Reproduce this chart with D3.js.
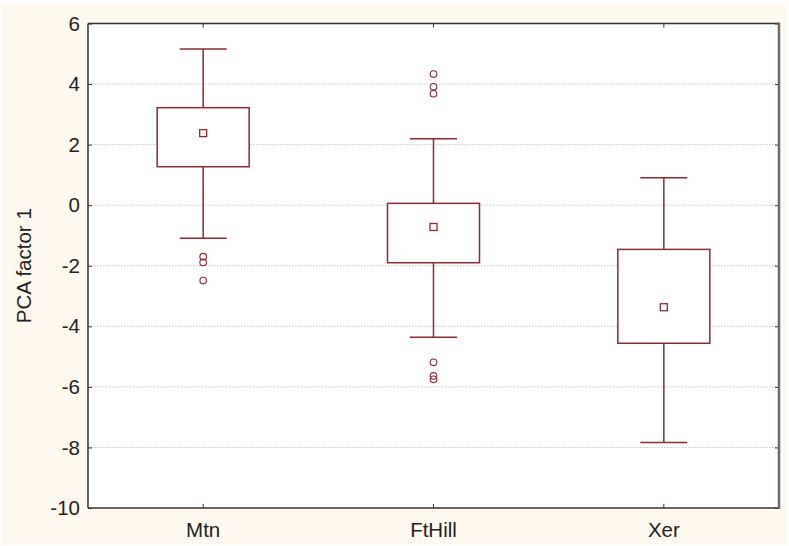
<!DOCTYPE html>
<html>
<head>
<meta charset="utf-8">
<script src="https://cdn.jsdelivr.net/npm/d3@7"></script>
<style>
  html, body { margin: 0; padding: 0; background: #ffffff; }
  svg { display: block; }
  text { font-family: "Liberation Sans", Arial, sans-serif; fill: #222; }
</style>
</head>
<body>
<svg id="chart" width="789" height="546"></svg>
<script>
// Box summaries of PCA factor 1 by habitat
const categories = ["Mtn", "FtHill", "Xer"];
const whiskerHigh = [5.16, 2.19, 0.91];
const boxHigh     = [3.22, 0.06, -1.46];
const means       = [2.38, -0.72, -3.37];
const boxLow      = [1.27, -1.90, -4.56];
const whiskerLow  = [-1.09, -4.36, -7.84];
const outliers    = [
  [-1.70, -1.89, -2.49],
  [4.33, 3.91, 3.68, -5.19, -5.64, -5.75],
  []
];
const yTicks = [6, 4, 2, 0, -2, -4, -6, -8, -10];
const yTitle = "PCA factor 1";

const svg = d3.select("#chart");
const W = 789, H = 546;
const m = { left: 88, right: 10, top: 23.5, bottom: 38 };
const innerR = W - m.right, innerB = H - m.bottom;
const color = "#8a2a33";

// panel background
svg.append("rect").attr("x", 2).attr("y", 3).attr("width", W - 4).attr("height", H - 4)
  .attr("fill", "#fff9f0");
svg.append("rect").attr("x", m.left).attr("y", m.top)
  .attr("width", innerR - m.left).attr("height", innerB - m.top).attr("fill", "#fff");

const x = d3.scaleBand().domain(categories).range([m.left, innerR]);
const y = d3.scaleLinear().domain([-10, 6]).range([innerB, m.top]);

// dotted grid
svg.append("g").selectAll("line").data(yTicks.filter(t => t > -10 && t < 6)).join("line")
  .attr("x1", m.left).attr("x2", innerR)
  .attr("y1", d => y(d)).attr("y2", d => y(d))
  .attr("stroke", "#c4c4c4").attr("stroke-width", 1).attr("stroke-dasharray", "1.5,1.5");

// axes with inward ticks
const yAxis = svg.append("g").attr("transform", `translate(${m.left},0)`)
  .call(d3.axisLeft(y).tickValues(yTicks).tickSize(-4).tickPadding(8).tickFormat(d3.format("d")));
yAxis.select(".domain").remove();
yAxis.selectAll("line").attr("stroke", "#333");
yAxis.selectAll("text").style("font-size", "20.5px").attr("fill", "#222")
  .text(d => d < 0 ? "-" + Math.abs(d) : d);

const yAxisR = svg.append("g").attr("transform", `translate(${innerR},0)`)
  .call(d3.axisRight(y).tickValues(yTicks).tickSize(-4).tickFormat(""));
yAxisR.select(".domain").remove();
yAxisR.selectAll("line").attr("stroke", "#333");

const xAxis = svg.append("g").attr("transform", `translate(0,${innerB})`)
  .call(d3.axisBottom(x).tickSize(-4).tickPadding(14));
xAxis.select(".domain").remove();
xAxis.selectAll("line").attr("stroke", "#333");
xAxis.selectAll("text").style("font-size", "20.5px").attr("fill", "#222");

const xAxisT = svg.append("g").attr("transform", `translate(0,${m.top})`)
  .call(d3.axisTop(x).tickSize(-4).tickFormat(""));
xAxisT.select(".domain").remove();
xAxisT.selectAll("line").attr("stroke", "#333");

// frame
svg.append("line").attr("x1", m.left).attr("x2", m.left).attr("y1", m.top).attr("y2", innerB)
  .attr("stroke", "#333").attr("stroke-width", 1.5);
svg.append("line").attr("x1", m.left).attr("x2", innerR).attr("y1", innerB).attr("y2", innerB)
  .attr("stroke", "#333").attr("stroke-width", 1.5);
svg.append("line").attr("x1", m.left).attr("x2", innerR).attr("y1", m.top).attr("y2", m.top)
  .attr("stroke", "#333").attr("stroke-width", 1.5);
svg.append("line").attr("x1", innerR).attr("x2", innerR).attr("y1", m.top - 1).attr("y2", innerB + 1)
  .attr("stroke", "#6a6a6a").attr("stroke-width", 2.5);

// boxes
const boxHalf = 46, capHalf = 23.5;
const g = svg.append("g");
categories.forEach((c, i) => {
  const cx = x(c) + x.bandwidth() / 2;
  const grp = g.append("g");
  grp.append("line").attr("x1", cx).attr("x2", cx)
    .attr("y1", y(whiskerHigh[i])).attr("y2", y(boxHigh[i]))
    .attr("stroke", color).attr("stroke-width", 1.5);
  grp.append("line").attr("x1", cx).attr("x2", cx)
    .attr("y1", y(boxLow[i])).attr("y2", y(whiskerLow[i]))
    .attr("stroke", color).attr("stroke-width", 1.5);
  [whiskerHigh[i], whiskerLow[i]].forEach(v => {
    grp.append("line").attr("x1", cx - capHalf).attr("x2", cx + capHalf)
      .attr("y1", y(v)).attr("y2", y(v))
      .attr("stroke", color).attr("stroke-width", 1.5);
  });
  grp.append("rect").attr("x", cx - boxHalf).attr("width", boxHalf * 2)
    .attr("y", y(boxHigh[i])).attr("height", y(boxLow[i]) - y(boxHigh[i]))
    .attr("fill", "#fff").attr("stroke", color).attr("stroke-width", 1.5);
  grp.append("rect").attr("x", cx - 3.5).attr("y", y(means[i]) - 3.5)
    .attr("width", 7).attr("height", 7)
    .attr("fill", "#fff").attr("stroke", color).attr("stroke-width", 1.3);
  grp.selectAll("circle").data(outliers[i]).join("circle")
    .attr("cx", cx).attr("cy", d => y(d)).attr("r", 3.3)
    .attr("fill", "none").attr("stroke", color).attr("stroke-width", 1.1);
});

// y title
svg.append("text")
  .attr("transform", `translate(31,${(m.top + innerB) / 2}) rotate(-90)`)
  .attr("text-anchor", "middle")
  .style("font-size", "20.5px")
  .text(yTitle);
</script>
</body>
</html>
